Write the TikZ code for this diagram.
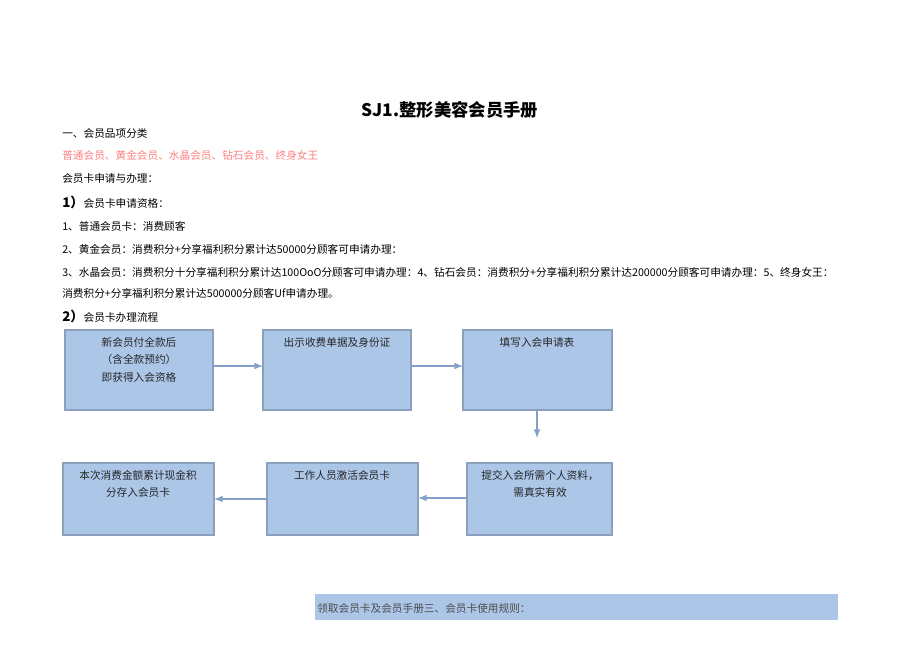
\documentclass[tikz,border=0pt]{standalone}
\usepackage{fontspec}
\setmainfont{Liberation Serif}
\newfontfamily\cjk{Noto Sans CJK SC}
\definecolor{boxfill}{RGB}{172,198,232}
\definecolor{boxline}{RGB}{140,160,190}
\definecolor{arrcol}{RGB}{130,160,200}
\begin{document}
\begin{tikzpicture}[x=0.75pt,y=-0.75pt,
 txt/.style={anchor=west,inner sep=0,font=\cjk\fontsize{8}{9}\selectfont},
 box/.style={draw=boxline,line width=1.2pt,fill=boxfill},
 lbl/.style={inner sep=0,font=\cjk\fontsize{8}{13}\selectfont,align=center,anchor=north,text=black!85},
 arr/.style={draw=arrcol,line width=1.2pt,-latex}]
\useasboundingbox (0,0) rectangle (920,651);
\node[inner sep=0,font=\cjk\bfseries\fontsize{13}{14}\selectfont] (t) at (450,110) {SJ1.整形美容会员手册};
\node[txt] (l1) at (62,133) {一、会员品项分类};
\node[txt,text=red!50!white] (l2) at (62,155) {普通会员、黄金会员、水晶会员、钻石会员、终身女王};
\node[txt] (l3) at (62,178) {会员卡申请与办理：};
\node[txt] (l4) at (62,202) {\textbf{\fontsize{10}{10}\selectfont 1）}会员卡申请资格：};
\node[txt] (l5) at (62,226) {1、普通会员卡：消费顾客};
\node[txt] (l6) at (62,249) {2、黄金会员：消费积分+分享福利积分累计达50000分顾客可申请办理：};
\node[txt] (l7) at (62,272) {3、水晶会员：消费积分十分享福利积分累计达100OoO分顾客可申请办理：4、钻石会员：消费积分+分享福利积分累计达200000分顾客可申请办理：5、终身女王：};
\node[txt] (l8) at (62,293) {消费积分+分享福利积分累计达500000分顾客Uf申请办理。};
\node[txt] (l9) at (62,316) {\textbf{\fontsize{10}{10}\selectfont 2）}会员卡办理流程};
\path[box] (65,330) rectangle (213,410);
\path[box] (263,330) rectangle (411,410);
\path[box] (463,330) rectangle (612,410);
\path[box] (63,463) rectangle (214,535);
\path[box] (267,463) rectangle (418,535);
\path[box] (467,463) rectangle (612,535);
\node[lbl] (n1) at (139,337) {新会员付全款后\\（含全款预约）\\即获得入会资格};
\node[lbl] (n2) at (337,337) {出示收费单据及身份证};
\node[lbl] (n3) at (537,337) {填写入会申请表};
\node[lbl] (n4) at (138,470) {本次消费金额累计现金积\\分存入会员卡};
\node[lbl] (n5) at (342,470) {工作人员激活会员卡};
\node[lbl] (n6) at (540,470) {提交入会所需个人资料，\\需真实有效};
\coordinate (a1s) at (213,366); \coordinate (a1e) at (263,366);
\coordinate (a2s) at (411,366); \coordinate (a2e) at (463,366);
\coordinate (a3s) at (537,410); \coordinate (a3e) at (537,438);
\coordinate (a4s) at (467,498); \coordinate (a4e) at (418,498);
\coordinate (a5s) at (267,499); \coordinate (a5e) at (214,499);
\draw[arr] (a1s) -- (a1e);
\draw[arr] (a2s) -- (a2e);
\draw[arr] (a3s) -- (a3e);
\draw[arr] (a4s) -- (a4e);
\draw[arr] (a5s) -- (a5e);
\fill[boxfill] (315,594) rectangle (838,620);
\node[txt,text=black!70] (bar) at (317,608) {领取会员卡及会员手册三、会员卡使用规则：};
\end{tikzpicture}
\end{document}
